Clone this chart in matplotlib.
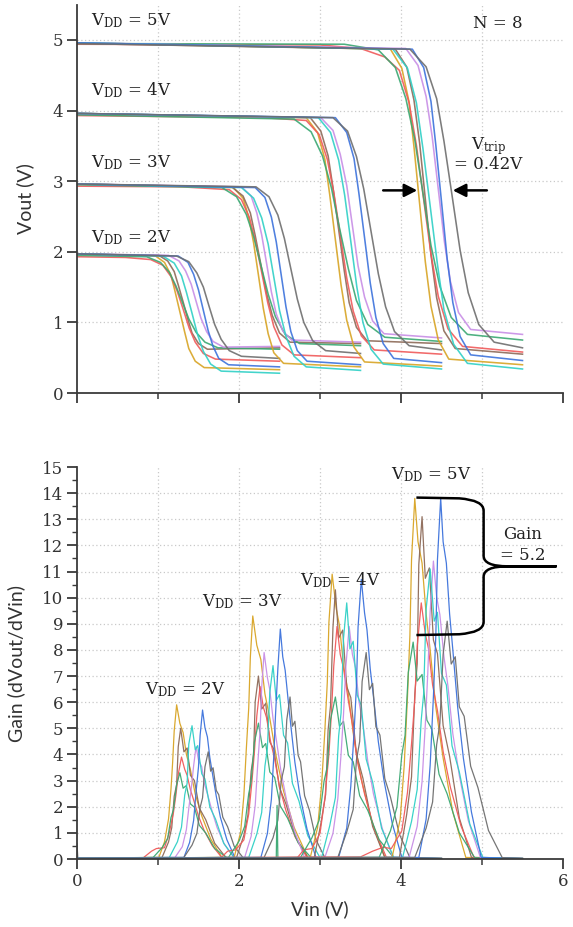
import matplotlib
matplotlib.use("Agg")
import numpy as np
import matplotlib.pyplot as plt
from matplotlib.path import Path
from matplotlib.patches import PathPatch

plt.rcParams['font.family'] = ['DejaVu Serif']
plt.rcParams['mathtext.fontset'] = 'dejavuserif'

# one colour per device, same order in every list below
colors = ['#d8a424', '#8d6a58', '#f05a5a', '#3aa872', '#c88ee6', '#2fd0c6', '#3c72dc', '#6e6e6e']
supplies = [2, 3, 4, 5]

# ---- transfer curves Vout(Vin), knots
top_vin_2 = [
    [0, 0.97, 1.08, 1.16, 1.21, 1.27, 1.33, 1.38, 1.46, 1.57, 2.5],
    [0, 1.01, 1.12, 1.20, 1.25, 1.31, 1.37, 1.42, 1.50, 1.61, 2.5],
    [0, 0.6, 0.91, 1.06, 1.16, 1.235, 1.31, 1.385, 1.46, 1.56, 1.71, 2.5],
    [0, 0.86, 1.03, 1.14, 1.22, 1.30, 1.38, 1.47, 1.58, 1.74, 2.5],
    [0, 1.13, 1.26, 1.34, 1.41, 1.47, 1.53, 1.60, 1.68, 1.81, 2.5],
    [0, 1.06, 1.20, 1.29, 1.35, 1.42, 1.49, 1.56, 1.65, 1.78, 2.5],
    [0, 1.25, 1.37, 1.44, 1.50, 1.56, 1.62, 1.68, 1.75, 1.87, 2.5],
    [0, 1.23, 1.38, 1.48, 1.56, 1.63, 1.70, 1.78, 1.88, 2.03, 2.5],
]
top_vout_2 = [
    [1.97, 1.94, 1.85, 1.67, 1.44, 1.15, 0.86, 0.63, 0.45, 0.36, 0.33],
    [1.97, 1.95, 1.87, 1.72, 1.53, 1.29, 1.04, 0.85, 0.70, 0.62, 0.64],
    [1.93, 1.92, 1.89, 1.81, 1.65, 1.45, 1.19, 0.92, 0.72, 0.56, 0.48, 0.45],
    [1.95, 1.93, 1.85, 1.71, 1.52, 1.29, 1.05, 0.86, 0.72, 0.64, 0.62],
    [1.97, 1.95, 1.87, 1.73, 1.54, 1.30, 1.06, 0.87, 0.73, 0.65, 0.66],
    [1.97, 1.94, 1.84, 1.66, 1.43, 1.13, 0.82, 0.59, 0.41, 0.31, 0.28],
    [1.97, 1.94, 1.85, 1.68, 1.46, 1.17, 0.88, 0.66, 0.49, 0.40, 0.37],
    [1.97, 1.94, 1.86, 1.70, 1.50, 1.23, 0.97, 0.76, 0.60, 0.52, 0.49],
]
top_vin_3 = [
    [0, 1.93, 2.05, 2.12, 2.18, 2.24, 2.30, 2.36, 2.43, 2.55, 3.5],
    [0, 1.91, 2.05, 2.14, 2.20, 2.27, 2.34, 2.41, 2.50, 2.63, 3.5],
    [0, 1.3, 1.88, 2.03, 2.13, 2.205, 2.28, 2.355, 2.43, 2.53, 2.68, 3.5],
    [0, 1.79, 1.97, 2.09, 2.18, 2.27, 2.36, 2.45, 2.57, 2.75, 3.5],
    [0, 2.03, 2.15, 2.22, 2.28, 2.34, 2.40, 2.46, 2.54, 2.65, 3.5],
    [0, 2.03, 2.18, 2.28, 2.36, 2.43, 2.50, 2.58, 2.68, 2.83, 3.5],
    [0, 2.20, 2.32, 2.40, 2.46, 2.52, 2.58, 2.64, 2.72, 2.84, 3.5],
    [0, 2.21, 2.37, 2.48, 2.56, 2.64, 2.72, 2.80, 2.91, 3.07, 3.5],
]
top_vout_3 = [
    [2.96, 2.91, 2.76, 2.49, 2.13, 1.67, 1.20, 0.84, 0.57, 0.42, 0.37],
    [2.96, 2.92, 2.79, 2.55, 2.23, 1.82, 1.41, 1.10, 0.85, 0.72, 0.70],
    [2.93, 2.92, 2.88, 2.74, 2.48, 2.14, 1.71, 1.28, 0.94, 0.68, 0.54, 0.50],
    [2.95, 2.91, 2.78, 2.53, 2.22, 1.81, 1.40, 1.08, 0.83, 0.70, 0.67],
    [2.96, 2.92, 2.79, 2.55, 2.24, 1.84, 1.43, 1.12, 0.88, 0.75, 0.72],
    [2.96, 2.91, 2.76, 2.48, 2.11, 1.64, 1.17, 0.80, 0.52, 0.37, 0.32],
    [2.96, 2.91, 2.77, 2.49, 2.14, 1.68, 1.22, 0.87, 0.60, 0.45, 0.40],
    [2.96, 2.92, 2.78, 2.52, 2.19, 1.76, 1.33, 1.00, 0.74, 0.60, 0.56],
]
top_vin_4 = [
    [0, 2.83, 2.97, 3.06, 3.12, 3.19, 3.26, 3.33, 3.42, 3.55, 4.5],
    [0, 2.88, 3.01, 3.10, 3.16, 3.23, 3.30, 3.36, 3.45, 3.58, 4.5],
    [0, 2.3, 2.83, 2.99, 3.09, 3.17, 3.25, 3.33, 3.41, 3.51, 3.67, 4.5],
    [0, 2.68, 2.89, 3.03, 3.14, 3.24, 3.35, 3.45, 3.59, 3.80, 4.5],
    [0, 3.01, 3.16, 3.25, 3.33, 3.40, 3.47, 3.55, 3.65, 3.79, 4.5],
    [0, 2.98, 3.13, 3.23, 3.305, 3.38, 3.455, 3.53, 3.63, 3.78, 4.5],
    [0, 3.19, 3.33, 3.42, 3.48, 3.55, 3.62, 3.69, 3.78, 3.91, 4.5],
    [0, 3.16, 3.34, 3.45, 3.54, 3.63, 3.72, 3.81, 3.92, 4.10, 4.5],
]
top_vout_4 = [
    [3.96, 3.90, 3.69, 3.31, 2.81, 2.17, 1.53, 1.03, 0.65, 0.44, 0.38],
    [3.96, 3.90, 3.71, 3.36, 2.91, 2.32, 1.73, 1.28, 0.93, 0.74, 0.70],
    [3.93, 3.90, 3.86, 3.66, 3.31, 2.84, 2.24, 1.63, 1.16, 0.81, 0.61, 0.55],
    [3.94, 3.88, 3.70, 3.36, 2.91, 2.34, 1.76, 1.31, 0.97, 0.79, 0.73],
    [3.96, 3.90, 3.72, 3.38, 2.94, 2.37, 1.80, 1.36, 1.02, 0.84, 0.78],
    [3.96, 3.90, 3.69, 3.30, 2.80, 2.15, 1.50, 1.00, 0.62, 0.41, 0.34],
    [3.96, 3.90, 3.69, 3.32, 2.83, 2.20, 1.56, 1.07, 0.70, 0.49, 0.43],
    [3.96, 3.90, 3.71, 3.35, 2.89, 2.29, 1.69, 1.22, 0.87, 0.67, 0.61],
]
top_vin_5 = [
    [0, 3.87, 4.01, 4.10, 4.16, 4.23, 4.30, 4.37, 4.46, 4.59, 5.5],
    [0, 3.93, 4.07, 4.16, 4.23, 4.30, 4.37, 4.44, 4.53, 4.67, 5.5],
    [0, 3.0, 3.5, 3.80, 3.98, 4.10, 4.19, 4.28, 4.37, 4.46, 4.58, 4.76, 5.5],
    [0, 3.3, 3.72, 3.93, 4.06, 4.17, 4.27, 4.37, 4.48, 4.62, 4.82, 5.5],
    [0, 4.06, 4.21, 4.31, 4.385, 4.46, 4.535, 4.61, 4.71, 4.86, 5.5],
    [0, 3.90, 4.08, 4.19, 4.27, 4.36, 4.45, 4.53, 4.65, 4.82, 5.5],
    [0, 4.14, 4.28, 4.37, 4.43, 4.50, 4.57, 4.64, 4.73, 4.86, 5.5],
    [0, 4.11, 4.31, 4.44, 4.53, 4.63, 4.73, 4.83, 4.96, 5.15, 5.5],
]
top_vout_5 = [
    [4.96, 4.87, 4.60, 4.12, 3.49, 2.68, 1.86, 1.23, 0.75, 0.48, 0.40],
    [4.95, 4.87, 4.62, 4.15, 3.54, 2.75, 1.96, 1.35, 0.88, 0.63, 0.55],
    [4.94, 4.93, 4.88, 4.76, 4.57, 4.11, 3.51, 2.74, 1.97, 1.37, 0.91, 0.66, 0.58],
    [4.95, 4.94, 4.86, 4.61, 4.17, 3.59, 2.84, 2.09, 1.51, 1.07, 0.83, 0.75],
    [4.96, 4.88, 4.64, 4.20, 3.63, 2.89, 2.15, 1.58, 1.14, 0.90, 0.83],
    [4.96, 4.87, 4.60, 4.11, 3.47, 2.65, 1.82, 1.18, 0.69, 0.42, 0.34],
    [4.96, 4.87, 4.61, 4.13, 3.51, 2.71, 1.90, 1.28, 0.80, 0.54, 0.46],
    [4.95, 4.87, 4.62, 4.17, 3.57, 2.80, 2.02, 1.42, 0.97, 0.72, 0.64],
]

# ---- gain curves dVout/dVin, knots
gain_vin_2 = [
    [0, 1.01, 1.08, 1.13, 1.16, 1.18, 1.20, 1.23, 1.27, 1.31, 1.35, 1.40, 1.46, 1.54, 1.65, 1.79, 2.5],
    [0, 1.05, 1.13, 1.17, 1.20, 1.23, 1.25, 1.28, 1.32, 1.36, 1.40, 1.45, 1.51, 1.59, 1.70, 1.84, 2.5],
    [0, 0.82, 0.92, 0.98, 1.08, 1.14, 1.19, 1.22, 1.25, 1.29, 1.33, 1.36, 1.40, 1.44, 1.50, 1.57, 1.67, 1.79, 2.5],
    [0, 0.94, 1.05, 1.12, 1.16, 1.19, 1.23, 1.27, 1.31, 1.35, 1.40, 1.45, 1.51, 1.59, 1.70, 1.85, 2.5],
    [0, 1.21, 1.30, 1.35, 1.38, 1.41, 1.44, 1.47, 1.50, 1.54, 1.57, 1.61, 1.67, 1.73, 1.82, 1.94, 2.5],
    [0, 1.14, 1.24, 1.29, 1.33, 1.36, 1.38, 1.42, 1.46, 1.49, 1.54, 1.58, 1.64, 1.71, 1.81, 1.94, 2.5],
    [0, 1.32, 1.39, 1.44, 1.47, 1.50, 1.52, 1.55, 1.58, 1.61, 1.64, 1.67, 1.72, 1.77, 1.85, 1.95, 2.5],
    [0, 0.01, 1.32, 1.42, 1.48, 1.52, 1.55, 1.58, 1.62, 1.65, 1.68, 1.72, 1.75, 1.80, 1.86, 1.94, 2.05, 2.5],
]
gain_2 = [
    [0.03, 0.06, 0.65, 1.53, 2.66, 3.66, 4.90, 5.90, 5.19, 4.84, 4.01, 3.42, 2.48, 1.65, 0.77, 0.05, 0.02],
    [0.03, 0.06, 0.65, 1.20, 2.40, 2.85, 4.30, 5.00, 4.10, 4.25, 3.20, 3.00, 1.95, 1.50, 0.60, 0.05, 0.02],
    [0.03, 0.05, 0.30, 0.40, 0.43, 1.01, 1.76, 2.42, 3.24, 3.90, 3.43, 3.20, 2.65, 2.26, 1.64, 1.09, 0.51, 0.05, 0.02],
    [0.03, 0.06, 0.43, 0.79, 1.58, 1.88, 2.84, 3.30, 2.71, 2.81, 2.11, 1.98, 1.29, 0.99, 0.40, 0.05, 0.02],
    [0.03, 0.06, 0.47, 1.12, 1.94, 2.67, 3.57, 4.30, 3.78, 3.53, 2.92, 2.49, 1.81, 1.20, 0.56, 0.05, 0.02],
    [0.03, 0.06, 0.66, 1.22, 2.45, 2.91, 4.39, 5.10, 4.18, 4.34, 3.26, 3.06, 1.99, 1.53, 0.61, 0.05, 0.02],
    [0.03, 0.06, 0.63, 1.48, 2.57, 3.53, 4.73, 5.70, 5.02, 4.67, 3.88, 3.31, 2.39, 1.60, 0.74, 0.05, 0.02],
    [0.60, 0.04, 0.06, 0.53, 0.98, 1.97, 2.34, 3.53, 4.10, 3.36, 3.49, 2.62, 2.46, 1.60, 1.23, 0.49, 0.05, 0.02],
]
gain_vin_3 = [
    [0, 1.94, 2.02, 2.06, 2.09, 2.12, 2.14, 2.17, 2.22, 2.27, 2.32, 2.38, 2.46, 2.55, 2.68, 2.85, 3.5],
    [0, 1.97, 2.06, 2.11, 2.15, 2.18, 2.20, 2.24, 2.28, 2.33, 2.38, 2.43, 2.50, 2.58, 2.70, 2.85, 3.5],
    [0, 1.78, 1.86, 1.96, 2.06, 2.12, 2.16, 2.19, 2.22, 2.26, 2.30, 2.34, 2.39, 2.44, 2.50, 2.58, 2.69, 2.84, 3.5],
    [0, 1.87, 2.00, 2.07, 2.12, 2.15, 2.19, 2.24, 2.29, 2.33, 2.38, 2.44, 2.51, 2.60, 2.73, 2.89, 3.5],
    [0, 2.07, 2.15, 2.20, 2.23, 2.26, 2.28, 2.31, 2.35, 2.38, 2.42, 2.46, 2.52, 2.59, 2.69, 2.81, 3.5],
    [0, 2.12, 2.22, 2.28, 2.32, 2.35, 2.38, 2.42, 2.46, 2.50, 2.55, 2.60, 2.66, 2.74, 2.85, 3.00, 3.5],
    [0, 2.27, 2.35, 2.40, 2.43, 2.45, 2.48, 2.51, 2.54, 2.57, 2.61, 2.64, 2.69, 2.75, 2.84, 2.95, 3.5],
    [0, 2.31, 2.42, 2.48, 2.52, 2.56, 2.59, 2.63, 2.66, 2.69, 2.73, 2.76, 2.81, 2.87, 2.95, 3.06, 3.5],
]
gain_3 = [
    [0.03, 0.06, 1.02, 2.42, 4.19, 5.77, 7.72, 9.30, 8.18, 7.63, 6.32, 5.39, 3.91, 2.60, 1.21, 0.06, 0.02],
    [0.03, 0.06, 0.91, 1.68, 3.36, 3.99, 6.02, 7.00, 5.74, 5.95, 4.48, 4.20, 2.73, 2.10, 0.84, 0.05, 0.02],
    [0.03, 0.05, 0.30, 0.35, 0.73, 1.72, 2.97, 4.09, 5.48, 6.60, 5.81, 5.41, 4.49, 3.83, 2.77, 1.85, 0.86, 0.05, 0.02],
    [0.03, 0.06, 0.68, 1.25, 2.50, 2.96, 4.47, 5.20, 4.26, 4.42, 3.33, 3.12, 2.03, 1.56, 0.62, 0.05, 0.02],
    [0.03, 0.06, 0.87, 2.05, 3.56, 4.90, 6.56, 7.90, 6.95, 6.48, 5.37, 4.58, 3.32, 2.21, 1.03, 0.05, 0.02],
    [0.03, 0.06, 0.96, 1.78, 3.55, 4.22, 6.36, 7.40, 6.07, 6.29, 4.74, 4.44, 2.89, 2.22, 0.89, 0.05, 0.02],
    [0.03, 0.06, 0.97, 2.29, 3.96, 5.46, 7.30, 8.80, 7.74, 7.22, 5.98, 5.10, 3.70, 2.46, 1.14, 0.06, 0.02],
    [0.03, 0.06, 0.81, 1.49, 2.98, 3.53, 5.33, 6.20, 5.08, 5.27, 3.97, 3.72, 2.42, 1.86, 0.74, 0.05, 0.02],
]
gain_vin_4 = [
    [0, 2.88, 2.97, 3.02, 3.06, 3.09, 3.11, 3.15, 3.20, 3.24, 3.29, 3.35, 3.42, 3.51, 3.64, 3.80, 4.5],
    [0, 2.93, 3.01, 3.07, 3.10, 3.13, 3.16, 3.19, 3.23, 3.28, 3.33, 3.38, 3.45, 3.53, 3.65, 3.80, 4.5],
    [0, 2.72, 2.80, 2.90, 3.00, 3.06, 3.11, 3.14, 3.17, 3.21, 3.25, 3.29, 3.35, 3.40, 3.46, 3.55, 3.67, 3.82, 4.5],
    [0, 2.46, 2.47, 2.48, 2.76, 2.90, 2.99, 3.05, 3.09, 3.13, 3.19, 3.24, 3.29, 3.35, 3.41, 3.49, 3.59, 3.73, 3.91, 4.5],
    [0, 3.06, 3.16, 3.22, 3.26, 3.29, 3.32, 3.36, 3.40, 3.44, 3.48, 3.53, 3.59, 3.66, 3.77, 3.90, 4.5],
    [0, 3.02, 3.12, 3.19, 3.23, 3.26, 3.29, 3.33, 3.37, 3.41, 3.46, 3.51, 3.57, 3.65, 3.76, 3.91, 4.5],
    [0, 3.23, 3.33, 3.38, 3.42, 3.45, 3.47, 3.51, 3.55, 3.58, 3.62, 3.66, 3.72, 3.79, 3.89, 4.01, 4.5],
    [0, 3.22, 3.33, 3.41, 3.45, 3.49, 3.52, 3.57, 3.61, 3.65, 3.69, 3.74, 3.80, 3.87, 3.98, 4.11, 4.5],
]
gain_4 = [
    [0.03, 0.06, 1.20, 2.83, 4.91, 6.76, 9.05, 10.90, 9.59, 8.94, 7.41, 6.32, 4.58, 3.05, 1.42, 0.06, 0.02],
    [0.03, 0.06, 1.34, 2.47, 4.94, 5.87, 8.86, 10.30, 8.45, 8.76, 6.59, 6.18, 4.02, 3.09, 1.24, 0.06, 0.02],
    [0.03, 0.05, 0.35, 0.40, 0.98, 2.31, 4.01, 5.52, 7.39, 8.90, 7.83, 7.30, 6.05, 5.16, 3.74, 2.49, 1.16, 0.06, 0.02],
    [0.03, 0.03, 2.05, 0.03, 0.06, 0.81, 1.49, 2.98, 3.53, 5.33, 6.20, 5.08, 5.27, 3.97, 3.72, 2.42, 1.86, 0.74, 0.05, 0.02],
    [0.03, 0.06, 0.98, 2.31, 4.01, 5.52, 7.39, 8.90, 7.83, 7.30, 6.05, 5.16, 3.74, 2.49, 1.16, 0.06, 0.02],
    [0.03, 0.06, 1.27, 2.35, 4.70, 5.59, 8.43, 9.80, 8.04, 8.33, 6.27, 5.88, 3.82, 2.94, 1.18, 0.06, 0.02],
    [0.03, 0.06, 1.18, 2.78, 4.82, 6.63, 8.88, 10.70, 9.42, 8.77, 7.28, 6.21, 4.49, 3.00, 1.39, 0.06, 0.02],
    [0.03, 0.06, 1.03, 1.90, 3.79, 4.50, 6.79, 7.90, 6.48, 6.72, 5.06, 4.74, 3.08, 2.37, 0.95, 0.05, 0.02],
]
gain_vin_5 = [
    [0, 3.89, 3.99, 4.04, 4.08, 4.11, 4.13, 4.17, 4.21, 4.26, 4.31, 4.36, 4.43, 4.52, 4.64, 4.80, 5.5],
    [0, 3.98, 4.07, 4.13, 4.17, 4.20, 4.22, 4.26, 4.30, 4.35, 4.40, 4.45, 4.52, 4.60, 4.72, 4.87, 5.5],
    [0, 3.50, 3.65, 3.78, 3.88, 4.01, 4.08, 4.13, 4.17, 4.20, 4.25, 4.30, 4.34, 4.39, 4.45, 4.52, 4.61, 4.74, 4.90, 5.5],
    [0, 3.73, 3.87, 3.95, 4.01, 4.05, 4.09, 4.15, 4.20, 4.26, 4.32, 4.38, 4.47, 4.57, 4.72, 4.91, 5.5],
    [0, 4.10, 4.20, 4.26, 4.30, 4.33, 4.36, 4.40, 4.44, 4.48, 4.53, 4.58, 4.64, 4.72, 4.83, 4.98, 5.5],
    [0, 4.02, 4.13, 4.20, 4.25, 4.28, 4.31, 4.36, 4.41, 4.45, 4.50, 4.56, 4.63, 4.72, 4.85, 5.01, 5.5],
    [0, 4.22, 4.31, 4.36, 4.40, 4.43, 4.45, 4.49, 4.52, 4.56, 4.60, 4.64, 4.70, 4.77, 4.87, 4.99, 5.5],
    [0, 4.17, 4.31, 4.39, 4.44, 4.48, 4.52, 4.57, 4.62, 4.67, 4.72, 4.78, 4.86, 4.95, 5.08, 5.25, 5.5],
]
gain_5 = [
    [0.03, 0.06, 1.52, 3.59, 6.21, 8.56, 11.45, 13.80, 12.14, 11.32, 9.38, 8.00, 5.80, 3.86, 1.79, 0.06, 0.02],
    [0.03, 0.06, 1.70, 3.14, 6.29, 7.47, 11.27, 13.10, 10.74, 11.14, 8.38, 7.86, 5.11, 3.93, 1.57, 0.06, 0.02],
    [0.03, 0.08, 0.30, 0.45, 0.40, 1.08, 2.55, 4.41, 6.08, 8.13, 9.80, 8.62, 8.04, 6.66, 5.68, 4.12, 2.74, 1.27, 0.06, 0.02],
    [0.03, 0.06, 1.08, 1.99, 3.98, 4.73, 7.14, 8.30, 6.81, 7.06, 5.31, 4.98, 3.24, 2.49, 1.00, 0.05, 0.02],
    [0.03, 0.06, 1.25, 2.96, 5.13, 7.07, 9.46, 11.40, 10.03, 9.35, 7.75, 6.61, 4.79, 3.19, 1.48, 0.06, 0.02],
    [0.03, 0.06, 1.44, 2.66, 5.33, 6.33, 9.55, 11.10, 9.10, 9.44, 7.10, 6.66, 4.33, 3.33, 1.33, 0.06, 0.02],
    [0.03, 0.06, 1.52, 3.59, 6.21, 8.56, 11.45, 13.80, 12.14, 11.32, 9.38, 8.00, 5.80, 3.86, 1.79, 0.06, 0.02],
    [0.03, 0.06, 1.18, 2.18, 4.37, 5.19, 7.83, 9.10, 7.46, 7.74, 5.82, 5.46, 3.55, 2.73, 1.09, 0.05, 0.02],
]

# annotation values
vtrip = 0.42
vtrip_lo, vtrip_hi = 4.21, 4.63
gain_hi, gain_lo = 13.83, 8.57
gain_spread = 5.2

top_vin = [top_vin_2, top_vin_3, top_vin_4, top_vin_5]
top_vout = [top_vout_2, top_vout_3, top_vout_4, top_vout_5]
gain_vin = [gain_vin_2, gain_vin_3, gain_vin_4, gain_vin_5]
gain = [gain_2, gain_3, gain_4, gain_5]

axis_col = '#3a3a3a'
grid_col = '#c9c9c9'
label_font = ['Lato', 'DejaVu Sans']

fig = plt.figure(figsize=(5.73, 9.27), dpi=100)
ax1 = fig.add_axes([77/573, 1 - 393/927, 486/573, 388.3/927])
ax2 = fig.add_axes([77/573, 1 - 859/927, 486/573, 392/927])


def style(ax, ymax, grid_y):
    ax.set_xlim(0, 6)
    ax.set_ylim(0, ymax)
    for s in ['top', 'right']:
        ax.spines[s].set_visible(False)
    for s in ['left', 'bottom']:
        ax.spines[s].set_linewidth(1.3)
        ax.spines[s].set_color(axis_col)
    ax.set_xticks([0, 2, 4, 6])
    ax.set_xticks([1, 3, 5], minor=True)
    ax.tick_params(direction='out', length=7, width=1.3, colors=axis_col,
                   labelcolor='#333333', labelsize=12, pad=3)
    ax.tick_params(which='minor', direction='out', length=4, width=1.1, colors=axis_col)
    for v in range(1, 6):
        ax.axvline(v, color=grid_col, lw=0.9, ls=(0, (1, 2)), zorder=0)
    for v in grid_y:
        ax.axhline(v, color=grid_col, lw=0.9, ls=(0, (1, 2)), zorder=0)


# ---------------- upper panel: Vout vs Vin
style(ax1, 5.5, range(1, 6))
ax1.set_yticks(range(0, 6))
ax1.set_xticklabels([])
for xs_g, ys_g in zip(top_vin, top_vout):
    for xs, ys, c in zip(xs_g, ys_g, colors):
        ax1.plot(xs, ys, color=c, lw=1.15, alpha=0.9)

ax1.set_ylabel('Vout (V)', family=label_font, fontsize=14, color='#333333')
ax1.yaxis.set_label_coords(-0.088, 0.5)

for vdd, y in zip(supplies, [2.20, 3.26, 4.29, 5.27]):
    ax1.text(0.17, y, r'V$_{\mathregular{DD}}$ = %dV' % vdd, fontsize=12,
             ha='left', va='center', color='#222222')
ax1.text(5.2, 5.24, 'N = 8', fontsize=12, ha='center', va='center', color='#222222')
ax1.text(5.08, 3.50, r'V$_{\mathregular{trip}}$', fontsize=12, ha='center', va='center', color='#222222')
ax1.text(5.08, 3.23, '= %.2fV' % vtrip, fontsize=12, ha='center', va='center', color='#222222')
arrow = dict(arrowstyle='-|>,head_length=0.55,head_width=0.28', color='black', lw=1.8,
             shrinkA=0, shrinkB=0, mutation_scale=14)
ax1.annotate('', xy=(vtrip_lo - 0.01, 2.87), xytext=(3.78, 2.87), arrowprops=arrow)
ax1.annotate('', xy=(vtrip_hi + 0.01, 2.87), xytext=(5.06, 2.87), arrowprops=arrow)

# ---------------- lower panel: gain
style(ax2, 15, range(1, 15))
ax2.set_yticks(range(0, 16))
ax2.set_yticks(np.arange(0.5, 15, 1), minor=True)
ax2.tick_params(axis='y', which='minor', length=3.5, width=1.0)
for xs_g, ys_g in zip(gain_vin, gain):
    for xs, ys, c in zip(xs_g, ys_g, colors):
        ax2.plot(xs, ys, color=c, lw=0.9, alpha=0.95)

ax2.set_ylabel('Gain (dVout/dVin)', family=label_font, fontsize=14, color='#333333')
ax2.yaxis.set_label_coords(-0.107, 0.5)
ax2.set_xlabel('Vin (V)', family=label_font, fontsize=14, color='#333333')
ax2.xaxis.set_label_coords(0.5, -0.105)

for vdd, (x, y) in zip(supplies, [(1.34, 6.47), (2.04, 9.83), (3.25, 10.68), (4.38, 14.7)]):
    ax2.text(x, y, r'V$_{\mathregular{DD}}$ = %dV' % vdd, fontsize=12,
             ha='center', va='center', color='#222222')

# curly brace spanning the spread of peak gains
xb, xt = 5.02, 5.92
ym = (gain_hi + gain_lo) / 2
verts = [(4.19, gain_hi), (4.72, gain_hi - 0.03), (xb, gain_hi - 0.1), (xb, gain_hi - 0.5),
         (xb, ym + 0.4), (xb, ym), (5.32, ym), (xt, ym),
         (5.32, ym), (xb, ym), (xb, ym - 0.4),
         (xb, gain_lo + 0.5), (xb, gain_lo + 0.1), (4.72, gain_lo + 0.03), (4.19, gain_lo)]
codes = [Path.MOVETO, Path.LINETO, Path.CURVE3, Path.CURVE3,
         Path.LINETO, Path.CURVE3, Path.CURVE3, Path.LINETO,
         Path.LINETO, Path.CURVE3, Path.CURVE3,
         Path.LINETO, Path.CURVE3, Path.CURVE3, Path.LINETO]
ax2.add_patch(PathPatch(Path(verts, codes), fill=False, lw=1.8, edgecolor='black',
                        clip_on=False, zorder=5))
ax2.text(5.50, 12.4, 'Gain', fontsize=12, ha='center', va='center', color='#222222')
ax2.text(5.50, 11.6, '= %.1f' % gain_spread, fontsize=12, ha='center', va='center', color='#222222')

fig.savefig('out.png', dpi=100)
